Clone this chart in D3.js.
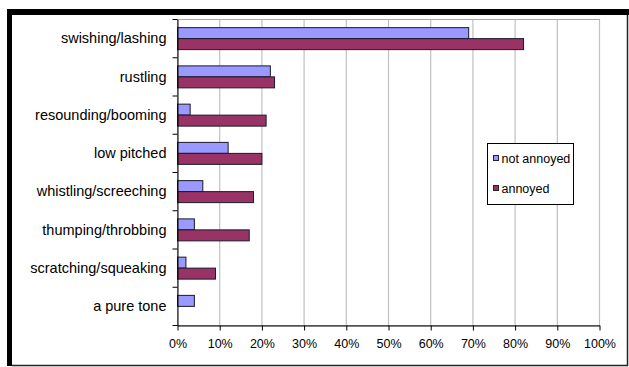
<!DOCTYPE html>
<html lang='en'>
<head>
    <meta charset='utf-8'>
    <title>Noise descriptions</title>
    <script src="https://d3js.org/d3.v7.min.js"></script>
    <style>
        body { margin: 0; background: white; }
        text { font-family: "Liberation Sans", Arial, sans-serif; fill: #000; }
    </style>
</head>
<body>
    <div id='chart'></div>
    <script>
        const categories = ["swishing/lashing", "rustling", "resounding/booming", "low pitched",
                            "whistling/screeching", "thumping/throbbing", "scratching/squeaking", "a pure tone"];
        const notAnnoyed = [69, 22, 3, 12, 6, 4, 2, 4];
        const annoyed = [82, 23, 21, 20, 18, 17, 9, 0];
        const seriesNames = ["not annoyed", "annoyed"];
        const seriesColors = ["#9999ff", "#993366"];
        const xTicks = [0, 10, 20, 30, 40, 50, 60, 70, 80, 90, 100];

        let size = { width: 629, height: 367 };
        let plot = { left: 177.5, right: 599.5, top: 19.5, bottom: 325.5 };

        let svg = d3.select("#chart")
                    .append("svg")
                        .attr("width", size.width)
                        .attr("height", size.height);

        // frame
        svg.append("rect").attr("x", 7).attr("y", 9).attr("width", 622).attr("height", 6).attr("fill", "#000");
        svg.append("rect").attr("x", 7).attr("y", 9).attr("width", 5).attr("height", 357).attr("fill", "#000");
        svg.append("line").attr("x1", 627.5).attr("x2", 627.5).attr("y1", 15).attr("y2", 366)
            .attr("stroke", "#222").attr("stroke-width", 1.5);
        svg.append("line").attr("x1", 12).attr("x2", 628).attr("y1", 365.5).attr("y2", 365.5)
            .attr("stroke", "#222").attr("stroke-width", 1.5);

        let x = d3.scaleLinear().domain([0, 100]).range([plot.left, plot.right]);
        let y = d3.scaleBand().domain(categories).range([plot.top, plot.bottom]);
        let inner = d3.scaleBand().domain(seriesNames).range([0, y.bandwidth()])
                      .paddingInner(0).paddingOuter(0.74);

        // plot area border + gridlines
        svg.append("rect")
            .attr("x", plot.left).attr("y", plot.top)
            .attr("width", plot.right - plot.left).attr("height", plot.bottom - plot.top)
            .attr("fill", "white").attr("stroke", "#a6a6a6").attr("stroke-width", 1);

        svg.append("g")
            .selectAll("line")
            .data(xTicks.slice(1))
            .enter()
            .append("line")
                .attr("x1", d => x(d)).attr("x2", d => x(d))
                .attr("y1", plot.top).attr("y2", plot.bottom)
                .attr("stroke", "#c0c0c0").attr("stroke-width", 1.2);

        // bars
        let rows = categories.map((c, i) => ({cat: c, values: [notAnnoyed[i], annoyed[i]]}));
        rows.forEach(r => {
            r.values.forEach((v, j) => {
                if (v <= 0) return;
                svg.append("rect")
                    .attr("x", x(0))
                    .attr("y", y(r.cat) + inner(seriesNames[j]))
                    .attr("width", x(v) - x(0))
                    .attr("height", inner.bandwidth())
                    .attr("fill", seriesColors[j])
                    .attr("stroke", "#1a1a2a")
                    .attr("stroke-width", 1);
            });
        });

        // x axis
        let xAxis = svg.append("g")
            .attr("transform", `translate(0,${plot.bottom})`)
            .call(d3.axisBottom(x).tickValues(xTicks).tickSize(5).tickSizeOuter(0).tickPadding(9)
                    .tickFormat(d => d + "%"));
        xAxis.select(".domain").attr("stroke", "#000");
        xAxis.selectAll(".tick line").attr("stroke", "#000");
        xAxis.selectAll("text").style("font-size", "12.5px").attr("fill", "#111");

        // y axis: labels at band centres, ticks at band boundaries
        let yAxis = svg.append("g")
            .attr("transform", `translate(${plot.left},0)`)
            .call(d3.axisLeft(y).tickSize(0).tickPadding(11));
        yAxis.select(".domain").attr("stroke", "#000");
        yAxis.selectAll("text").style("font-size", "14.5px").attr("fill", "#111");

        svg.append("g")
            .selectAll("line")
            .data(categories.map(c => y(c)).concat([plot.bottom]))
            .enter()
            .append("line")
                .attr("x1", plot.left - 5).attr("x2", plot.left)
                .attr("y1", d => d).attr("y2", d => d)
                .attr("stroke", "#000");

        // legend
        let legend = svg.append("g").attr("transform", "translate(487.5,143.5)");
        legend.append("rect").attr("width", 86).attr("height", 61)
            .attr("fill", "white").attr("stroke", "#000");
        seriesNames.forEach((name, i) => {
            legend.append("rect")
                .attr("x", 6).attr("y", 12 + i * 30)
                .attr("width", 5).attr("height", 5)
                .attr("fill", seriesColors[i]).attr("stroke", "#222");
            legend.append("text")
                .attr("x", 14).attr("y", 19 + i * 30)
                .style("font-size", "12.5px")
                .text(name);
        });
    </script>
</body>
</html>
